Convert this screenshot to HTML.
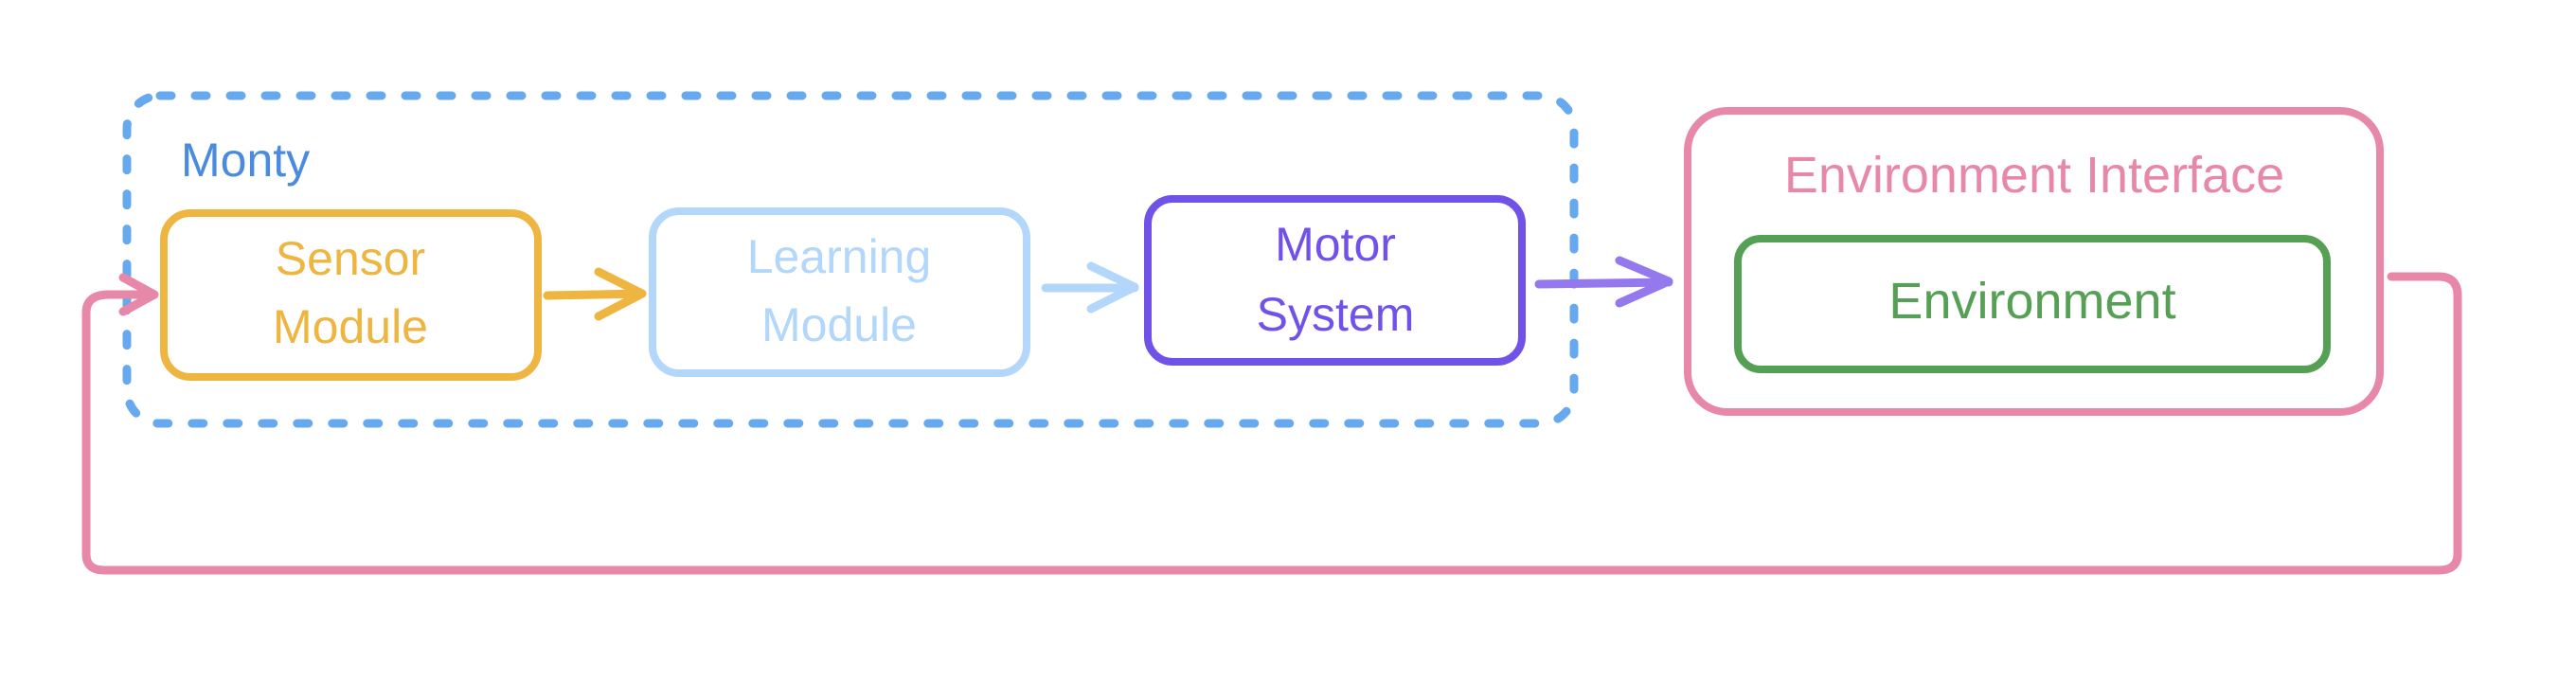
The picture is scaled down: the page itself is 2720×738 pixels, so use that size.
<!DOCTYPE html>
<html><head><meta charset="utf-8"><style>
html,body{margin:0;padding:0;background:#fff;overflow:hidden}
svg{display:block}
text{font-family:"Liberation Sans",sans-serif;}
</style></head><body>
<svg width="2720" height="738" viewBox="0 0 2720 738" xmlns="http://www.w3.org/2000/svg">
<rect width="2720" height="738" fill="#fff"/>
<rect x="134" y="101" width="1528" height="346" rx="35" fill="none" stroke="#67a9ee" stroke-width="9" stroke-dasharray="12 25" stroke-linecap="round"/>
<text x="191" y="186" font-size="50" fill="#4a8be0">Monty</text>
<rect x="173" y="225" width="395" height="173" rx="28" fill="none" stroke="#efb541" stroke-width="8"/>
<text x="370" y="290" font-size="50" fill="#efb541" text-anchor="middle">Sensor</text>
<text x="370" y="362" font-size="50" fill="#efb541" text-anchor="middle">Module</text>
<rect x="689" y="223" width="395" height="171" rx="28" fill="none" stroke="#b3d7fa" stroke-width="8"/>
<text x="886" y="288" font-size="50" fill="#b3d7fa" text-anchor="middle">Learning</text>
<text x="886" y="360" font-size="50" fill="#b3d7fa" text-anchor="middle">Module</text>
<rect x="1212" y="210" width="395" height="172" rx="26" fill="none" stroke="#7052e8" stroke-width="8"/>
<text x="1410" y="275" font-size="50" fill="#7052e8" text-anchor="middle">Motor</text>
<text x="1410" y="349" font-size="50" fill="#7052e8" text-anchor="middle">System</text>
<rect x="1782" y="117" width="731" height="318" rx="42" fill="none" stroke="#e888a8" stroke-width="8"/>
<text x="2148" y="203" font-size="54" fill="#e888a8" text-anchor="middle">Environment Interface</text>
<rect x="1835" y="252" width="622" height="138" rx="24" fill="none" stroke="#55a055" stroke-width="8"/>
<text x="2146" y="336" font-size="54" fill="#55a055" text-anchor="middle">Environment</text>
<g fill="none" stroke-linecap="round" stroke-linejoin="round" stroke-width="9">
<path d="M578 312 L678 310 M632 287 L678 310 L632 334" stroke="#efb541"/>
<path d="M1104 304 L1198 304 M1152 281 L1198 303 L1152 326" stroke="#b3d7fa"/>
<path d="M1625 300 L1762 298 M1710 275 L1762 297 L1710 320" stroke="#9478ee"/>
<path d="M2525 292 L2575 292 Q2595 292 2595 312 L2595 585 Q2595 602 2575 602 L110 602 Q91 602 91 585 L91 330 Q91 311 115 311 L162 311 M130 293 L163 311 L130 329" stroke="#e888a8"/>
</g>
</svg>
</body></html>
